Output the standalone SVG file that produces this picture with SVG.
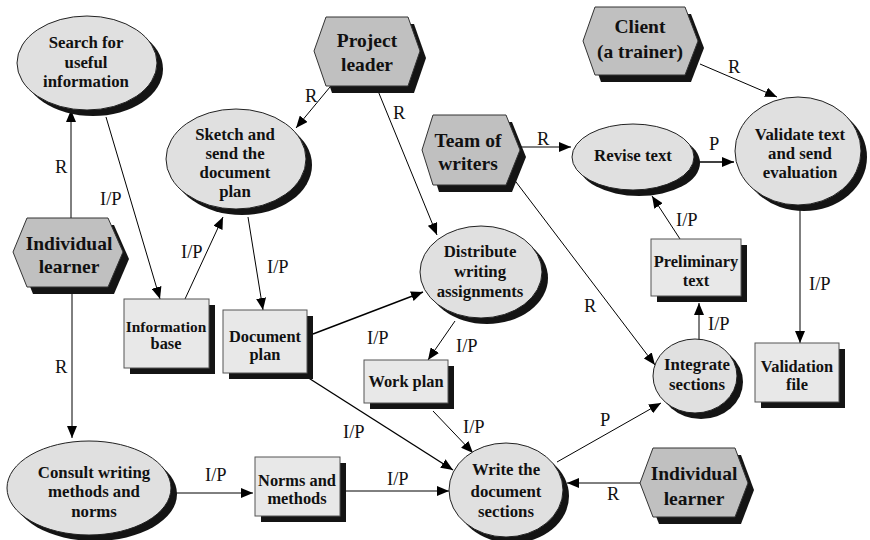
<svg xmlns="http://www.w3.org/2000/svg" width="870" height="540" viewBox="0 0 870 540">
  <style>
    .sh { fill: #141414; }
    .act { fill: #e0e0e0; stroke: #222; stroke-width: 1; }
    .role { fill: #c0c0c0; stroke: #333; stroke-width: 1; }
    .doc { fill: #e8e8e8; stroke: #555; stroke-width: 1; }
    .c { fill: none; stroke: #000; stroke-width: 1; marker-end: url(#ah); }
    .c2 { fill: none; stroke: #000; stroke-width: 1.4; marker-end: url(#ah); }
  </style>
  <defs>
    <marker id="ah" viewBox="0 0 12 10" refX="12" refY="5" markerWidth="12" markerHeight="10" markerUnits="userSpaceOnUse" orient="auto">
      <path d="M0,0 L12,5 L0,10 z" fill="#000"/>
    </marker>
  </defs>
  <rect width="870" height="540" fill="#fff"/>

  <!-- connectors -->
  <g id="connectors">
    <line class="c" x1="71" y1="218" x2="71" y2="110"/>
    <line class="c" x1="72" y1="287" x2="72" y2="438"/>
    <line class="c" x1="106" y1="117" x2="160" y2="299"/>
    <line class="c" x1="185" y1="299" x2="223" y2="217"/>
    <line class="c" x1="248" y1="217" x2="263" y2="310"/>
    <line class="c" x1="330" y1="87" x2="296" y2="128"/>
    <line class="c" x1="376" y1="86" x2="437" y2="235"/>
    <line class="c2" x1="313" y1="334" x2="423" y2="292"/>
    <line class="c" x1="455" y1="321" x2="428" y2="360"/>
    <line class="c2" x1="307" y1="377" x2="453" y2="470"/>
    <line class="c" x1="433" y1="411" x2="473" y2="453"/>
    <line class="c" x1="175" y1="493" x2="253" y2="493"/>
    <line class="c" x1="345" y1="491" x2="449" y2="491"/>
    <line class="c" x1="557" y1="462" x2="661" y2="403"/>
    <line class="c" x1="640" y1="483" x2="567" y2="483"/>
    <line class="c" x1="513" y1="178" x2="655" y2="365"/>
    <line class="c" x1="518" y1="147" x2="571" y2="147"/>
    <line class="c2" x1="694" y1="162" x2="734" y2="162"/>
    <line class="c" x1="700" y1="64" x2="777" y2="97"/>
    <line class="c" x1="800" y1="205" x2="800" y2="343"/>
    <line class="c" x1="699" y1="340" x2="699" y2="303"/>
    <line class="c" x1="680" y1="239" x2="652" y2="196"/>

    <text font-family="Liberation Serif" font-size="18.5" fill="#111" x="55" y="173">R</text>
    <text font-family="Liberation Serif" font-size="18.5" fill="#111" x="100" y="205">I/P</text>
    <text font-family="Liberation Serif" font-size="18.5" fill="#111" x="181" y="258">I/P</text>
    <text font-family="Liberation Serif" font-size="18.5" fill="#111" x="267" y="273">I/P</text>
    <text font-family="Liberation Serif" font-size="18.5" fill="#111" x="55" y="373">R</text>
    <text font-family="Liberation Serif" font-size="18.5" fill="#111" x="305" y="102">R</text>
    <text font-family="Liberation Serif" font-size="18.5" fill="#111" x="393" y="119">R</text>
    <text font-family="Liberation Serif" font-size="18.5" fill="#111" x="367" y="344">I/P</text>
    <text font-family="Liberation Serif" font-size="18.5" fill="#111" x="456" y="352">I/P</text>
    <text font-family="Liberation Serif" font-size="18.5" fill="#111" x="343" y="438">I/P</text>
    <text font-family="Liberation Serif" font-size="18.5" fill="#111" x="463" y="433">I/P</text>
    <text font-family="Liberation Serif" font-size="18.5" fill="#111" x="205" y="481">I/P</text>
    <text font-family="Liberation Serif" font-size="18.5" fill="#111" x="387" y="485">I/P</text>
    <text font-family="Liberation Serif" font-size="18.5" fill="#111" x="600" y="426">P</text>
    <text font-family="Liberation Serif" font-size="18.5" fill="#111" x="607" y="500">R</text>
    <text font-family="Liberation Serif" font-size="18.5" fill="#111" x="584" y="312">R</text>
    <text font-family="Liberation Serif" font-size="18.5" fill="#111" x="537" y="145">R</text>
    <text font-family="Liberation Serif" font-size="18.5" fill="#111" x="709" y="150">P</text>
    <text font-family="Liberation Serif" font-size="18.5" fill="#111" x="728" y="73">R</text>
    <text font-family="Liberation Serif" font-size="18.5" fill="#111" x="809" y="290">I/P</text>
    <text font-family="Liberation Serif" font-size="18.5" fill="#111" x="708" y="330">I/P</text>
    <text font-family="Liberation Serif" font-size="18.5" fill="#111" x="676" y="226">I/P</text>
  </g>

  <!-- activities (ellipses) -->
  <g id="search">
    <ellipse class="sh" cx="93" cy="69" rx="70" ry="47"/>
    <ellipse class="act" cx="87" cy="63" rx="70" ry="47"/>
    <text font-family="Liberation Serif" font-weight="bold" font-size="16.8" text-anchor="middle" fill="#111" x="86" y="48">Search for</text>
    <text font-family="Liberation Serif" font-weight="bold" font-size="16.8" text-anchor="middle" fill="#111" x="86" y="68">useful</text>
    <text font-family="Liberation Serif" font-weight="bold" font-size="16.8" text-anchor="middle" fill="#111" x="86" y="87">information</text>
  </g>
  <g id="sketch">
    <ellipse class="sh" cx="242" cy="165" rx="70" ry="50"/>
    <ellipse class="act" cx="236" cy="159" rx="70" ry="50"/>
    <text font-family="Liberation Serif" font-weight="bold" font-size="16.8" text-anchor="middle" fill="#111" x="235" y="140">Sketch and</text>
    <text font-family="Liberation Serif" font-weight="bold" font-size="16.8" text-anchor="middle" fill="#111" x="235" y="159">send the</text>
    <text font-family="Liberation Serif" font-weight="bold" font-size="16.8" text-anchor="middle" fill="#111" x="235" y="178">document</text>
    <text font-family="Liberation Serif" font-weight="bold" font-size="16.8" text-anchor="middle" fill="#111" x="235" y="197">plan</text>
  </g>
  <g id="distribute">
    <ellipse class="sh" cx="487" cy="278" rx="61" ry="46"/>
    <ellipse class="act" cx="481" cy="272" rx="61" ry="46"/>
    <text font-family="Liberation Serif" font-weight="bold" font-size="16.8" text-anchor="middle" fill="#111" x="480" y="257">Distribute</text>
    <text font-family="Liberation Serif" font-weight="bold" font-size="16.8" text-anchor="middle" fill="#111" x="480" y="277">writing</text>
    <text font-family="Liberation Serif" font-weight="bold" font-size="16.8" text-anchor="middle" fill="#111" x="480" y="297">assignments</text>
  </g>
  <g id="revise">
    <ellipse class="sh" cx="639" cy="163" rx="61" ry="33"/>
    <ellipse class="act" cx="633" cy="157" rx="61" ry="33"/>
    <text font-family="Liberation Serif" font-weight="bold" font-size="16.8" text-anchor="middle" fill="#111" x="633" y="161">Revise text</text>
  </g>
  <g id="validate">
    <ellipse class="sh" cx="804" cy="157" rx="63" ry="54"/>
    <ellipse class="act" cx="798" cy="151" rx="63" ry="54"/>
    <text font-family="Liberation Serif" font-weight="bold" font-size="16.8" text-anchor="middle" fill="#111" x="800" y="140">Validate text</text>
    <text font-family="Liberation Serif" font-weight="bold" font-size="16.8" text-anchor="middle" fill="#111" x="800" y="159">and send</text>
    <text font-family="Liberation Serif" font-weight="bold" font-size="16.8" text-anchor="middle" fill="#111" x="800" y="178">evaluation</text>
  </g>
  <g id="integrate">
    <ellipse class="sh" cx="701" cy="382" rx="42" ry="37"/>
    <ellipse class="act" cx="695" cy="376" rx="42" ry="37"/>
    <text font-family="Liberation Serif" font-weight="bold" font-size="16.8" text-anchor="middle" fill="#111" x="697" y="370">Integrate</text>
    <text font-family="Liberation Serif" font-weight="bold" font-size="16.8" text-anchor="middle" fill="#111" x="697" y="390">sections</text>
  </g>
  <g id="write">
    <ellipse class="sh" cx="512" cy="496" rx="57" ry="47"/>
    <ellipse class="act" cx="506" cy="490" rx="57" ry="47"/>
    <text font-family="Liberation Serif" font-weight="bold" font-size="16.8" text-anchor="middle" fill="#111" x="506" y="475">Write the</text>
    <text font-family="Liberation Serif" font-weight="bold" font-size="16.8" text-anchor="middle" fill="#111" x="506" y="497">document</text>
    <text font-family="Liberation Serif" font-weight="bold" font-size="16.8" text-anchor="middle" fill="#111" x="506" y="517">sections</text>
  </g>
  <g id="consult">
    <ellipse class="sh" cx="95" cy="494" rx="82" ry="47"/>
    <ellipse class="act" cx="89" cy="488" rx="82" ry="47"/>
    <text font-family="Liberation Serif" font-weight="bold" font-size="16.8" text-anchor="middle" fill="#111" x="94" y="478">Consult writing</text>
    <text font-family="Liberation Serif" font-weight="bold" font-size="16.8" text-anchor="middle" fill="#111" x="94" y="497">methods and</text>
    <text font-family="Liberation Serif" font-weight="bold" font-size="16.8" text-anchor="middle" fill="#111" x="94" y="517">norms</text>
  </g>

  <!-- roles (hexagons) -->
  <g id="project-leader">
    <polygon class="sh" points="320,58 332,24 414,24 426,58 414,93 332,93"/>
    <polygon class="role" points="314,51 326,17 408,17 420,51 408,86 326,86"/>
    <text font-family="Liberation Serif" font-weight="bold" font-size="19.5" text-anchor="middle" fill="#111" x="367" y="47">Project</text>
    <text font-family="Liberation Serif" font-weight="bold" font-size="19.5" text-anchor="middle" fill="#111" x="367" y="71">leader</text>
  </g>
  <g id="team-of-writers">
    <polygon class="sh" points="428,157 439,122 512,122 526,157 512,192 439,192"/>
    <polygon class="role" points="422,150 433,115 506,115 520,150 506,185 433,185"/>
    <text font-family="Liberation Serif" font-weight="bold" font-size="19.5" text-anchor="middle" fill="#111" x="468" y="147">Team of</text>
    <text font-family="Liberation Serif" font-weight="bold" font-size="19.5" text-anchor="middle" fill="#111" x="468" y="170">writers</text>
  </g>
  <g id="client">
    <polygon class="sh" points="589,48 601,14 691,14 704,48 691,82 601,82"/>
    <polygon class="role" points="583,41 595,7 685,7 698,41 685,75 595,75"/>
    <text font-family="Liberation Serif" font-weight="bold" font-size="19.5" text-anchor="middle" fill="#111" x="640" y="33">Client</text>
    <text font-family="Liberation Serif" font-weight="bold" font-size="19.5" text-anchor="middle" fill="#111" x="640" y="58">(a trainer)</text>
  </g>
  <g id="learner-left">
    <polygon class="sh" points="19,259 33,225 114,225 129,259 114,294 33,294"/>
    <polygon class="role" points="13,252 27,218 108,218 123,252 108,287 27,287"/>
    <text font-family="Liberation Serif" font-weight="bold" font-size="19.5" text-anchor="middle" fill="#111" x="69" y="250">Individual</text>
    <text font-family="Liberation Serif" font-weight="bold" font-size="19.5" text-anchor="middle" fill="#111" x="69" y="273">learner</text>
  </g>
  <g id="learner-right">
    <polygon class="sh" points="646,490 659,455 741,455 754,490 741,524 659,524"/>
    <polygon class="role" points="640,483 653,448 735,448 748,483 735,517 653,517"/>
    <text font-family="Liberation Serif" font-weight="bold" font-size="19.5" text-anchor="middle" fill="#111" x="694" y="480">Individual</text>
    <text font-family="Liberation Serif" font-weight="bold" font-size="19.5" text-anchor="middle" fill="#111" x="694" y="505">learner</text>
  </g>

  <!-- documents (rectangles) -->
  <g id="information-base">
    <rect class="sh" x="130" y="305" width="85" height="69"/>
    <rect class="doc" x="124" y="299" width="85" height="69"/>
    <text font-family="Liberation Serif" font-weight="bold" font-size="15.4" text-anchor="middle" fill="#111" x="166" y="332">Information</text>
    <text font-family="Liberation Serif" font-weight="bold" font-size="16.4" text-anchor="middle" fill="#111" x="166" y="349">base</text>
  </g>
  <g id="document-plan">
    <rect class="sh" x="229" y="316" width="84" height="63"/>
    <rect class="doc" x="223" y="310" width="84" height="63"/>
    <text font-family="Liberation Serif" font-weight="bold" font-size="16.4" text-anchor="middle" fill="#111" x="265" y="342">Document</text>
    <text font-family="Liberation Serif" font-weight="bold" font-size="16.4" text-anchor="middle" fill="#111" x="265" y="360">plan</text>
  </g>
  <g id="work-plan">
    <rect class="sh" x="370" y="366" width="84" height="43"/>
    <rect class="doc" x="364" y="360" width="84" height="43"/>
    <text font-family="Liberation Serif" font-weight="bold" font-size="16.4" text-anchor="middle" fill="#111" x="406" y="387">Work plan</text>
  </g>
  <g id="norms-and-methods">
    <rect class="sh" x="261" y="463" width="85" height="59"/>
    <rect class="doc" x="255" y="457" width="85" height="59"/>
    <text font-family="Liberation Serif" font-weight="bold" font-size="16.4" text-anchor="middle" fill="#111" x="297" y="486">Norms and</text>
    <text font-family="Liberation Serif" font-weight="bold" font-size="16.4" text-anchor="middle" fill="#111" x="297" y="504">methods</text>
  </g>
  <g id="preliminary-text">
    <rect class="sh" x="657" y="245" width="90" height="57"/>
    <rect class="doc" x="651" y="239" width="90" height="57"/>
    <text font-family="Liberation Serif" font-weight="bold" font-size="16.4" text-anchor="middle" fill="#111" x="696" y="267">Preliminary</text>
    <text font-family="Liberation Serif" font-weight="bold" font-size="16.4" text-anchor="middle" fill="#111" x="696" y="286">text</text>
  </g>
  <g id="validation-file">
    <rect class="sh" x="761" y="349" width="84" height="59"/>
    <rect class="doc" x="755" y="343" width="84" height="59"/>
    <text font-family="Liberation Serif" font-weight="bold" font-size="16.4" text-anchor="middle" fill="#111" x="797" y="372">Validation</text>
    <text font-family="Liberation Serif" font-weight="bold" font-size="16.4" text-anchor="middle" fill="#111" x="797" y="390">file</text>
  </g>
</svg>
